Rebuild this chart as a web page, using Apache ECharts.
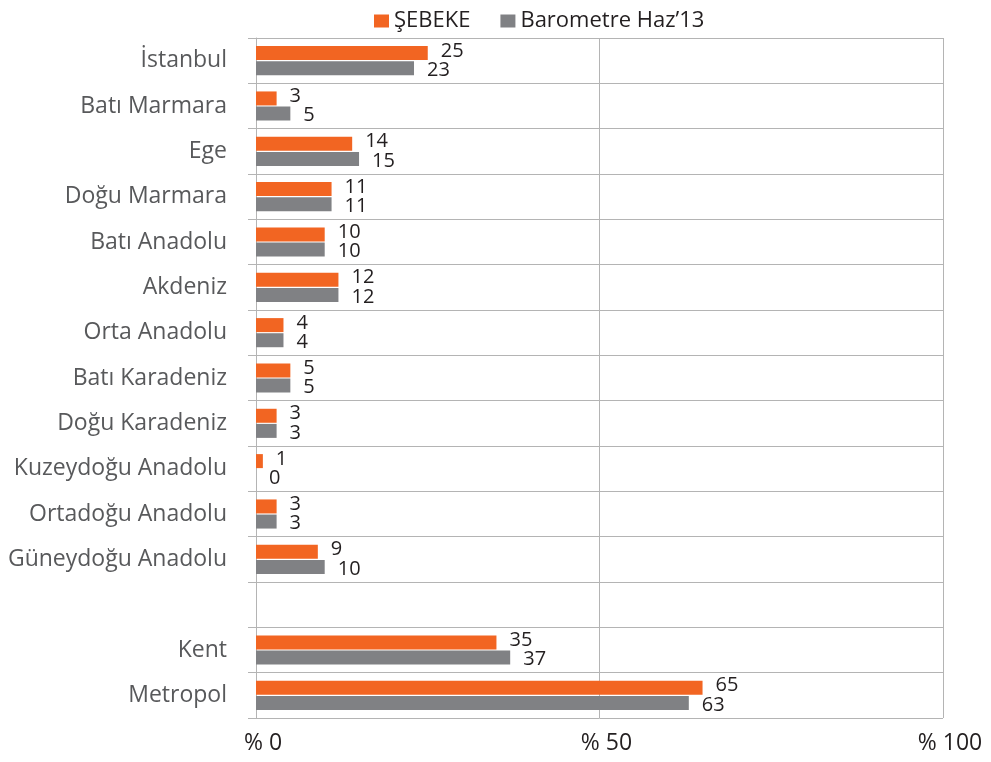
<!DOCTYPE html>
<html>
<head>
<meta charset="utf-8">
<script src="https://cdn.jsdelivr.net/npm/echarts@6/dist/echarts.min.js"></script>
<style>
  html, body { margin: 0; padding: 0; background: #fff; }
  #chart { width: 991px; height: 762px; }
</style>
</head>
<body>
<div id="chart"></div>
<script>
// regions, blank row separates the settlement types
const categories = [
  'İstanbul', 'Batı Marmara', 'Ege', 'Doğu Marmara', 'Batı Anadolu', 'Akdeniz',
  'Orta Anadolu', 'Batı Karadeniz', 'Doğu Karadeniz', 'Kuzeydoğu Anadolu',
  'Ortadoğu Anadolu', 'Güneydoğu Anadolu', '', 'Kent', 'Metropol'
];
const sebeke = [25, 3, 14, 11, 10, 12, 4, 5, 3, 1, 3, 9, null, 35, 65];
const barometre = [23, 5, 15, 11, 10, 12, 4, 5, 3, 0, 3, 10, null, 37, 63];
const seriesNames = ['ŞEBEKE', 'Barometre Haz’13'];
const colors = ['#f26522', '#808184'];

const fontFamily = 'Open Sans';
const gridColor = '#b4b4b4';

const myChart = echarts.init(document.getElementById('chart'));

function barLabel(dy) {
  return {
    show: true,
    position: 'right',
    distance: 13,
    offset: [0, dy],
    color: '#231f20',
    fontFamily,
    fontSize: 20
  };
}

myChart.setOption({
  animation: false,
  backgroundColor: '#fff',
  color: colors,
  legend: {
    left: 369,
    top: 5,
    itemWidth: 15,
    itemHeight: 13,
    itemGap: 30,
    icon: 'rect',
    textStyle: {
      color: '#231f20',
      fontFamily,
      fontSize: 22
    }
  },
  grid: {
    left: 256,
    right: 48,
    top: 38,
    bottom: 44
  },
  xAxis: {
    type: 'value',
    min: 0,
    max: 100,
    interval: 50,
    axisLine: { show: false },
    axisTick: { show: false },
    splitLine: { lineStyle: { color: gridColor, width: 1 } },
    axisLabel: {
      margin: 14,
      padding: [0, 0, 0, 14],
      color: '#231f20',
      fontFamily,
      fontSize: 23,
      formatter: v => '% ' + v
    }
  },
  yAxis: {
    type: 'category',
    inverse: true,
    data: categories,
    axisLine: { lineStyle: { color: gridColor, width: 1 } },
    axisTick: { show: true, length: 8, lineStyle: { color: gridColor } },
    splitLine: { show: true, lineStyle: { color: gridColor, width: 1 } },
    axisLabel: {
      margin: 29,
      padding: [6, 0, 0, 0],
      color: '#58595b',
      fontFamily,
      fontSize: 23
    }
  },
  series: [
    {
      name: seriesNames[0],
      type: 'bar',
      data: sebeke,
      barWidth: 14,
      barGap: '8%',
      label: barLabel(-2)
    },
    {
      name: seriesNames[1],
      type: 'bar',
      data: barometre,
      barWidth: 14,
      barGap: '8%',
      label: barLabel(2)
    }
  ]
});
</script>
</body>
</html>
